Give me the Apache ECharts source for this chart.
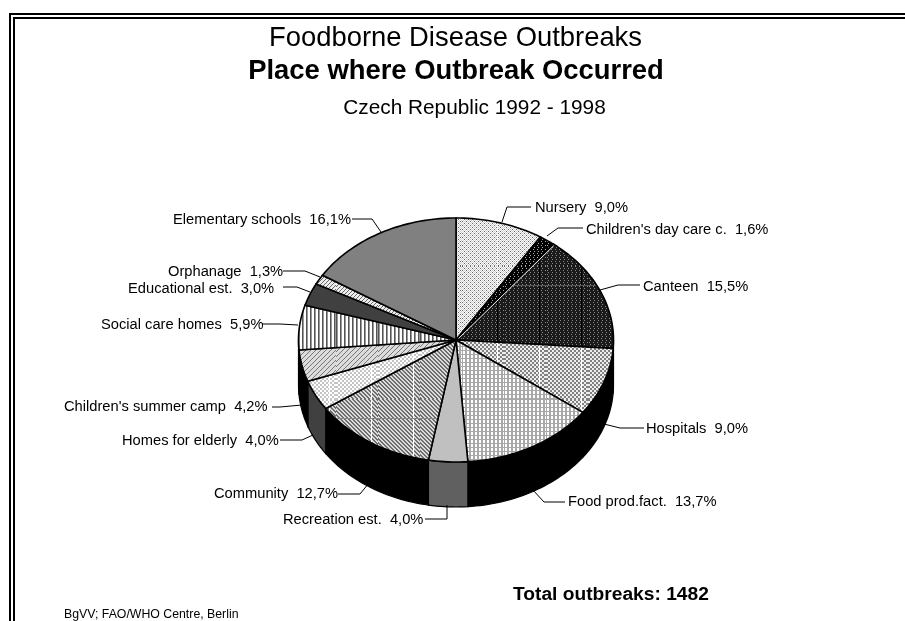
<!DOCTYPE html>
<html>
<head>
<meta charset="utf-8">
<style>html,body{margin:0;padding:0;background:#fff}#c{width:905px;height:621px}</style>
<script src="https://cdn.jsdelivr.net/npm/echarts@6/dist/echarts.min.js"></script>
</head>
<body>
<div id="c"></div>
<script>
// ---- data ----
var categories = ['Nursery','Children\'s day care c.','Canteen','Hospitals','Food prod.fact.','Recreation est.','Community','Homes for elderly','Children\'s summer camp','Social care homes','Educational est.','Orphanage','Elementary schools'];
var shares = [9.0,1.6,15.5,9.0,13.7,4.0,12.7,4.0,4.2,5.9,3.0,1.3,16.1];
var titleLines = ['Foodborne Disease Outbreaks','Place where Outbreak Occurred','Czech Republic 1992 - 1998'];
var totalNote = 'Total outbreaks: 1482';
var sourceNote = 'BgVV; FAO/WHO Centre, Berlin';

// ---- styling and layout (not data) ----
var FONT = '"Liberation Sans", Arial, sans-serif';
var pie = {cx:456, cy:340, rx:157.5, ry:122, depth:45};
var wallColors = ['#000','#000','#000','#000','#000','#606060','#000','#404040','#000','#000','#000','#000','#000'];
// label: text left x, text centre y; leader: polyline
var labelLayout = [
  {x:535,y:208,line:[[502,222],[507,207],[531,207]]},
  {x:586,y:230,line:[[547,236],[558,228],[583,228]]},
  {x:643,y:287,line:[[600,290],[618,285],[640,285]]},
  {x:646,y:429,line:[[604,424],[620,428],[644,428]]},
  {x:568,y:502,line:[[532,489],[544,502],[565,502]]},
  {x:283,y:520,line:[[447,505],[447,519],[425,519]]},
  {x:214,y:494,line:[[369,483],[360,494],[338,494]]},
  {x:122,y:441,line:[[313,435],[302,440],[280,440]]},
  {x:64,y:407,line:[[302,405],[280,407],[272,407]]},
  {x:101,y:325,line:[[298,325],[280,324],[262,324]]},
  {x:128,y:289,line:[[310,292],[297,287],[283,287]]},
  {x:168,y:272,line:[[320,277],[305,271],[283,271]]},
  {x:173,y:220,line:[[381,232],[372,219],[352,219]]}
];

function tile(rows, colors, vLine, hLine) {
  var c = document.createElement('canvas');
  c.width = 42; c.height = 133;
  var g = c.getContext('2d');
  for (var y = 0; y < 133; y++) {
    var r = rows[y % rows.length];
    for (var x = 0; x < 42; x++) {
      g.fillStyle = colors[r[x % r.length]];
      g.fillRect(x, y, 1, 1);
    }
  }
  if (vLine) { g.fillStyle = vLine; g.fillRect(35, 0, 1, 133); }
  if (hLine) { g.fillStyle = hLine; g.fillRect(0, 19, 42, 1); }
  return {image: c, repeat: 'repeat'};
}
var fills = [
  tile(['x.o.','.o.o','o.x.','.o.o'], {x:'#666',o:'#ccc','.':'#fff'}, '#f4f4f4'),
  tile(['#.##','####','##.#','####'], {'#':'#000','.':'#aaa'}),
  tile(['#.##','####','##.#','####'], {'#':'#1a1a1a','.':'#8a8a8a'}, '#000', '#555'),
  tile(['##..','##..','..##','..##'], {'#':'#808080','.':'#eee'}, '#fff'),
  tile(['####','#..#','#..#','#..#'], {'#':'#a8a8a8','.':'#fff'}),
  '#c0c0c0',
  tile(['##..','.##.','..##','#..#'], {'#':'#6e6e6e','.':'#dcdcdc'}, '#fff', '#888'),
  tile(['##..','##..','..##','..##'], {'#':'#c4c4c4','.':'#fff'}, '#fff'),
  tile(['#....','....#','...#.','..#..','.#...'], {'#':'#777','.':'#dcdcdc'}),
  tile(['#+..'], {'#':'#555','+':'#999','.':'#fff'}),
  '#404040',
  tile(['#...','...#','..#.','.#..'], {'#':'#666','.':'#eee'}),
  '#808080'
];

// angle clockwise from 12 o'clock, in degrees, from cumulative share
var total = shares.reduce(function(a,b){return a+b;},0);
var sliceRows = [], run = 0;
shares.forEach(function(v,i){
  sliceRows.push([run, run+v, i]);
  run += v;
});
function pt(deg, dy) {
  var a = deg*Math.PI/180;
  return [pie.cx + pie.rx*Math.sin(a), pie.cy - pie.ry*Math.cos(a) + (dy||0)];
}
function arc(a0, a1, dy) {
  var pts = [], n = Math.max(2, Math.ceil((a1-a0)/1.5));
  for (var k = 0; k <= n; k++) pts.push(pt(a0+(a1-a0)*k/n, dy));
  return pts;
}
function deg(v){ return v/total*360; }

function renderTop(p, api) {
  var a0 = deg(api.value(0)), a1 = deg(api.value(1)), i = api.value(2);
  var pts = [[pie.cx,pie.cy]].concat(arc(a0,a1,0));
  var kids = [{type:'polygon', shape:{points:pts},
    style:{fill:fills[i], stroke:'#000', lineWidth:1.6, lineJoin:'miter'}}];
  if (i === 2) {
    var e = pt(a0,0);
    kids.push({type:'polyline', shape:{points:[[pie.cx+2,pie.cy-1],[e[0]+0.5,e[1]+1.5]]},
      style:{fill:null, stroke:'#eee', lineWidth:1}});
  }
  return {type:'group', children:kids};
}
function renderWall(p, api) {
  var a0 = Math.max(deg(api.value(0)),90), a1 = Math.min(deg(api.value(1)),270), i = api.value(2);
  if (a1 <= a0) return {type:'group', children:[]};
  var pts = arc(a0,a1,0).concat(arc(a0,a1,pie.depth).reverse());
  return {type:'polygon', shape:{points:pts},
    style:{fill:wallColors[i], stroke:'#000', lineWidth:1.2}};
}
function renderLabel(p, api) {
  var i = api.value(2), L = labelLayout[i];
  var txt = categories[i]+'  '+shares[i].toFixed(1).replace('.',',')+'%';
  return {type:'group', children:[
    {type:'text', style:{text:txt, x:L.x, y:L.y, fill:'#000', font:'14.7px '+FONT, textAlign:'left', textVerticalAlign:'middle'}},
    {type:'polyline', shape:{points:L.line}, style:{fill:null, stroke:'#000', lineWidth:1}}
  ]};
}

var chart = echarts.init(document.getElementById('c'), null, {renderer:'canvas'});
function t(text,left,top,size,weight,align){
  return {text:text,left:left,top:top,textAlign:align,
    textStyle:{fontFamily:FONT,fontSize:size,fontWeight:weight,color:'#000'},padding:0};
}
chart.setOption({
  animation:false,
  backgroundColor:'#fff',
  title:[
    t(titleLines[0],455.5,25,27.4,'normal','center'),
    t(titleLines[1],456,58,27.4,'bold','center'),
    t(titleLines[2],474.5,98,20.8,'normal','center'),
    t(totalNote,513,585,19.2,'bold','left'),
    t(sourceNote,64,609,12.3,'normal','left')
  ],
  graphic:[
    {type:'rect',shape:{x:10,y:14,width:1000,height:1000},style:{fill:null,stroke:'#000',lineWidth:2},silent:true},
    {type:'rect',shape:{x:14,y:18,width:1000,height:1000},style:{fill:null,stroke:'#000',lineWidth:2},silent:true}
  ],
  series:[
    {type:'custom',name:'Sides',coordinateSystem:'none',renderItem:renderWall,data:sliceRows,z:1,silent:true},
    {type:'custom',name:'Place where Outbreak Occurred',coordinateSystem:'none',renderItem:renderTop,data:sliceRows,z:2,silent:true},
    {type:'custom',name:'Labels',coordinateSystem:'none',renderItem:renderLabel,data:sliceRows,z:3,silent:true}
  ]
});
</script>
</body>
</html>
